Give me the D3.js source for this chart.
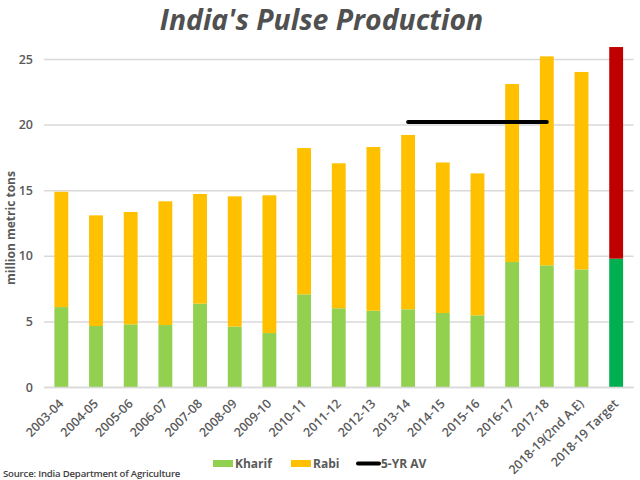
<!DOCTYPE html>
<html>
<head>
<meta charset="utf-8">
<script src="https://cdn.jsdelivr.net/npm/d3@7"></script>
<style>
  html, body { margin: 0; padding: 0; background: #fff; }
  text { font-family: "Open Sans", sans-serif; fill: #595959; }
</style>
</head>
<body>
<svg id="chart" width="640" height="480" style="display:block"></svg>
<script>
"use strict";
var years = ["2003-04","2004-05","2005-06","2006-07","2007-08","2008-09","2009-10","2010-11","2011-12",
             "2012-13","2013-14","2014-15","2015-16","2016-17","2017-18","2018-19(2nd A.E)","2018-19 Target"];
var kharif = [6.13,4.69,4.81,4.76,6.39,4.64,4.15,7.10,6.04,5.85,5.96,5.68,5.50,9.57,9.31,9.00,9.82];
var rabi = [8.79,8.43,8.57,9.43,8.36,9.93,10.50,11.15,11.05,12.48,13.29,11.47,10.82,13.56,15.93,15.05,16.13];
var avgYears = ["2013-14","2017-18"];
var avgValues = [20.23,20.23];
var yTicks = [0,5,10,15,20,25];
var targetYear = "2018-19 Target";

var svg = d3.select("#chart");
var plotLeft = 44, plotRight = 633.5, plotBottom = 387.5, plotY25 = 59.5;

var x = d3.scaleBand().domain(years).range([plotLeft, plotRight]).paddingInner(0.6).paddingOuter(0.3);
var y = d3.scaleLinear().domain([0, 25]).range([plotBottom, plotY25]);

// gridlines and value labels
var yAxis = svg.append("g").attr("transform", "translate(" + plotLeft + ",0)")
    .call(d3.axisLeft(y).tickValues(yTicks).tickSize(-(plotRight - plotLeft)).tickPadding(11).offset(0));
yAxis.select(".domain").remove();
yAxis.selectAll("line").attr("stroke", "#d9d9d9").attr("stroke-width", 1.5);
yAxis.selectAll("text").attr("font-size", 12.5).attr("font-weight", 600).style("font-family", '"Open Sans", sans-serif');

// stacked bars
var rows = years.map(function(d, i) { return {year: d, kharif: kharif[i], rabi: rabi[i]}; });
var layers = d3.stack().keys(["kharif", "rabi"])(rows);
var colors = {kharif: "#92d050", rabi: "#ffc000"};
var targetColors = {kharif: "#00b050", rabi: "#c00000"};

svg.selectAll("g.layer").data(layers).enter().append("g").attr("class", "layer")
    .each(function(layer) {
        d3.select(this).selectAll("rect").data(layer).enter().append("rect")
            .attr("x", function(d) { return x(d.data.year); })
            .attr("width", x.bandwidth())
            .attr("y", function(d) { return y(d[1]); })
            .attr("height", function(d) { return y(d[0]) - y(d[1]); })
            .attr("fill", function(d) {
                return d.data.year === targetYear ? targetColors[layer.key] : colors[layer.key];
            });
    });

// 5 year average
var avgLine = d3.line()
    .x(function(d) { return x(d.year) + x.bandwidth() / 2; })
    .y(function(d) { return y(d.value); });
svg.append("path")
    .datum(avgYears.map(function(d, i) { return {year: d, value: avgValues[i]}; }))
    .attr("d", avgLine)
    .attr("fill", "none")
    .attr("stroke", "#000")
    .attr("stroke-width", 4)
    .attr("stroke-linecap", "round");

// category axis
var xAxis = svg.append("g").attr("transform", "translate(0," + plotBottom + ")")
    .call(d3.axisBottom(x).tickSize(0).offset(0));
xAxis.select(".domain").attr("stroke", "#d9d9d9").attr("stroke-width", 1.5);
xAxis.selectAll("text")
    .attr("font-size", 12.5)
    .attr("font-weight", 600)
    .style("font-family", '"Open Sans", sans-serif')
    .attr("text-anchor", "end")
    .attr("dy", null)
    .attr("y", 0)
    .attr("transform", "translate(3,17) rotate(-45)");

svg.append("text").attr("x", 321.5).attr("y", 30)
    .attr("text-anchor", "middle")
    .attr("font-size", 28.4)
    .attr("font-weight", 700)
    .attr("font-style", "italic")
    .style("fill", "#505050")
    .text("India's Pulse Production");

svg.append("text")
    .attr("transform", "translate(15,228) rotate(-90)")
    .attr("text-anchor", "middle")
    .attr("font-size", 12)
    .attr("font-weight", 700)
    .text("million metric tons");

svg.append("text").attr("x", 3).attr("y", 477)
    .attr("font-size", 9.6)
    .attr("font-weight", 600)
    .attr("letter-spacing", -0.2)
    .style("fill", "#404040")
    .text("Source: India Department of Agriculture");

// legend
var legend = svg.append("g").attr("font-size", 12).attr("font-weight", 700);
legend.append("rect").attr("x", 213).attr("y", 460).attr("width", 20).attr("height", 7).attr("fill", colors.kharif);
legend.append("text").attr("x", 235).attr("y", 468).text("Kharif");
legend.append("rect").attr("x", 291).attr("y", 460).attr("width", 20).attr("height", 7).attr("fill", colors.rabi);
legend.append("text").attr("x", 313).attr("y", 468).text("Rabi");
legend.append("line").attr("x1", 358).attr("x2", 379).attr("y1", 463.5).attr("y2", 463.5)
    .attr("stroke", "#000").attr("stroke-width", 4).attr("stroke-linecap", "round");
legend.append("text").attr("x", 381).attr("y", 468).text("5-YR AV");
</script>
</body>
</html>
